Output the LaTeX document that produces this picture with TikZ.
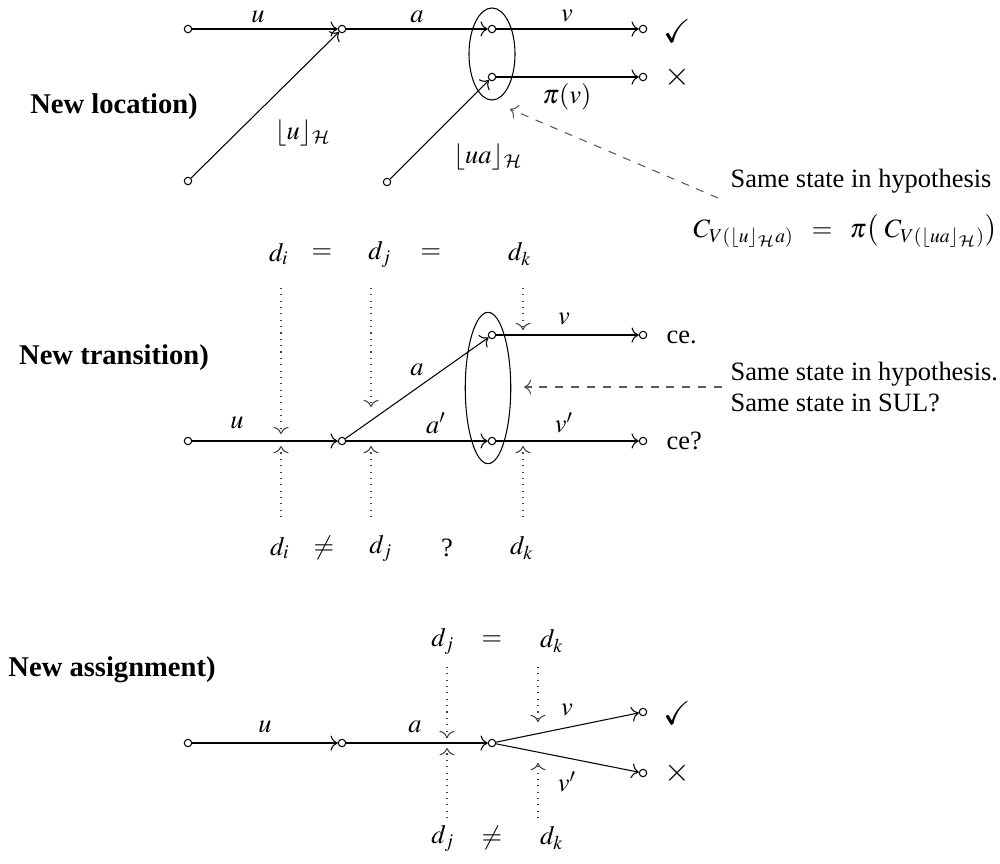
\documentclass[tikz,border=0pt]{standalone}
\usepackage{amssymb}
\usepackage{mathptmx}
\DeclareMathAlphabet{\mathcal}{OMS}{cmsy}{m}{n}
\usepackage[no-math]{fontspec}
\setmainfont{Liberation Serif}
\usetikzlibrary{shapes.geometric,arrows.meta}
\begin{document}
\begin{tikzpicture}[x=0.378pt,y=-0.378pt,
  >={To[scale=1.1]},
  st/.style={circle,draw,inner sep=0pt,minimum size=2.8pt},
  tr/.style={->},
  lbl/.style={inner sep=0pt},
  mark/.style={inner sep=0pt,scale=1.25},
  hint/.style={->,dotted,black!75},
  note/.style={->,dashed,black!65},
  grp/.style={ellipse,draw,inner sep=0pt},
  head/.style={inner sep=0pt,font=\fontsize{10.8}{13}\selectfont\bfseries}]
\useasboundingbox (0,0) rectangle (1000,863);

% ---------------- New location ----------------
\node[head] (h1) at (114,107) {New location)};
\node[st] (a1) at (188,29) {};
\node[st] (a2) at (342,29) {};
\node[st] (a3) at (492,29) {};
\node[st] (a4) at (643,29) {};
\node[st] (a5) at (188,181) {};
\node[st] (a6) at (387,182) {};
\node[st] (a7) at (492,77) {};
\node[st] (a8) at (643,77) {};
\node[grp,minimum width=17.4pt,minimum height=34.8pt] (e1) at (492,54) {};
\draw[tr] (a1) -- (a2);
\draw[tr] (a5) -- (a2);
\draw[tr] (a2) -- (a3);
\draw[tr] (a3) -- (a4);
\draw[tr] (a6) -- (a7);
\draw[tr] (a7) -- (a8);
\node[lbl] (la1) at (258,17) {$u$};
\node[lbl] (la2) at (417,17) {$a$};
\node[lbl] (la3) at (567,16) {$v$};
\node[lbl] (la4) at (567,97) {$\pi(v)$};
\node[lbl] (la5) at (303,133) {$\lfloor u\rfloor_{\mathcal{H}}$};
\node[lbl] (la6) at (488,157) {$\lfloor ua\rfloor_{\mathcal{H}}$};
\node[lbl,scale=1.25] (ok1) at (677,31) {$\checkmark$};
\node[lbl,scale=1.25] (no1) at (677,77) {$\times$};
\node[lbl] (t1) at (861,181) {Same state in hypothesis};
\node[lbl,anchor=east] (f1) at (998,231) {$C_{V(\lfloor u\rfloor_{\mathcal{H}}a)} \;\;=\;\; \pi\big(\;C_{V(\lfloor ua\rfloor_{\mathcal{H}})}\big)$};
\coordinate (d1s) at (718,198);
\coordinate (d1e) at (510,109);
\draw[note] (d1s) -- (d1e);

% ---------------- New transition ----------------
\node[head] (h2) at (114,358) {New transition)};
\node[lbl] (ti) at (279,254) {$d_i$};
\node[lbl] (te1) at (322,254) {$=$};
\node[lbl] (tj) at (380,254) {$d_j$};
\node[lbl] (te2) at (431,254) {$=$};
\node[lbl] (tk) at (520,254) {$d_k$};
\node[lbl] (bi) at (280,548) {$d_i$};
\node[lbl] (bne) at (324,548) {$\neq$};
\node[lbl] (bj) at (381,548) {$d_j$};
\node[lbl] (bq) at (447,548) {?};
\node[lbl] (bk) at (522,548) {$d_k$};
\node[st] (b1) at (188,441) {};
\node[st] (b2) at (342,441) {};
\node[st] (b3) at (492,335) {};
\node[st] (b4) at (492,441) {};
\node[st] (b5) at (643,335) {};
\node[st] (b6) at (643,441) {};
\node[grp,minimum width=17.2pt,minimum height=57.2pt] (e2) at (488,388) {};
\draw[tr] (b1) -- (b2);
\draw[tr] (b2) -- (b3);
\draw[tr] (b2) -- (b4);
\draw[tr] (b3) -- (b5);
\draw[tr] (b4) -- (b6);
\node[lbl] (lb1) at (237,423) {$u$};
\node[lbl] (lb2) at (417,370) {$a$};
\node[lbl] (lb3) at (436,423) {$a'$};
\node[lbl] (lb4) at (564,319) {$v$};
\node[lbl] (lb5) at (564,423) {$v'$};
\node[lbl,anchor=west] (ce1) at (666,337) {ce.};
\node[lbl,anchor=west] (ce2) at (666,441) {ce?};
\node[lbl,anchor=west,align=left] (t2) at (730,387) {Same state in hypothesis.\\Same state in SUL?};
\coordinate (d2s) at (722,387);
\coordinate (d2e) at (524,387);
\draw[note] (d2s) -- (d2e);
% dotted columns
\coordinate (pi1) at (281,288); \coordinate (pi2) at (281,434);
\coordinate (pi3) at (281,517); \coordinate (pi4) at (281,446);
\coordinate (pj1) at (371,288); \coordinate (pj2) at (371,407);
\coordinate (pj3) at (371,517); \coordinate (pj4) at (371,446);
\coordinate (pk1) at (523,288); \coordinate (pk2) at (523,330);
\coordinate (pk3) at (523,517); \coordinate (pk4) at (523,446);
\draw[hint] (pi1) -- (pi2);
\draw[hint] (pi3) -- (pi4);
\draw[hint] (pj1) -- (pj2);
\draw[hint] (pj3) -- (pj4);
\draw[hint] (pk1) -- (pk2);
\draw[hint] (pk3) -- (pk4);

% ---------------- New assignment ----------------
\node[head] (h3) at (112,670) {New assignment)};
\node[lbl] (sj) at (443,641) {$d_j$};
\node[lbl] (se) at (492,641) {$=$};
\node[lbl] (sk) at (552,641) {$d_k$};
\node[lbl] (uj) at (443,838) {$d_j$};
\node[lbl] (une) at (492,838) {$\neq$};
\node[lbl] (uk) at (552,838) {$d_k$};
\node[st] (c1) at (188,743) {};
\node[st] (c2) at (342,743) {};
\node[st] (c3) at (492,743) {};
\node[st] (c4) at (643,712) {};
\node[st] (c5) at (643,773) {};
\draw[tr] (c1) -- (c2);
\draw[tr] (c2) -- (c3);
\draw[tr] (c3) -- (c4);
\draw[tr] (c3) -- (c5);
\node[lbl] (lc1) at (265,727) {$u$};
\node[lbl] (lc2) at (415,727) {$a$};
\node[lbl] (lc3) at (567,710) {$v$};
\node[lbl] (lc4) at (567,782) {$v'$};
\node[lbl,scale=1.25] (ok3) at (677,713) {$\checkmark$};
\node[lbl,scale=1.25] (no3) at (677,773) {$\times$};
\coordinate (qj1) at (447,667); \coordinate (qj2) at (447,738);
\coordinate (qj3) at (447,818); \coordinate (qj4) at (447,748);
\coordinate (qk1) at (538,667); \coordinate (qk2) at (538,722);
\coordinate (qk3) at (538,818); \coordinate (qk4) at (538,763);
\draw[hint] (qj1) -- (qj2);
\draw[hint] (qj3) -- (qj4);
\draw[hint] (qk1) -- (qk2);
\draw[hint] (qk3) -- (qk4);
\end{tikzpicture}
\end{document}
